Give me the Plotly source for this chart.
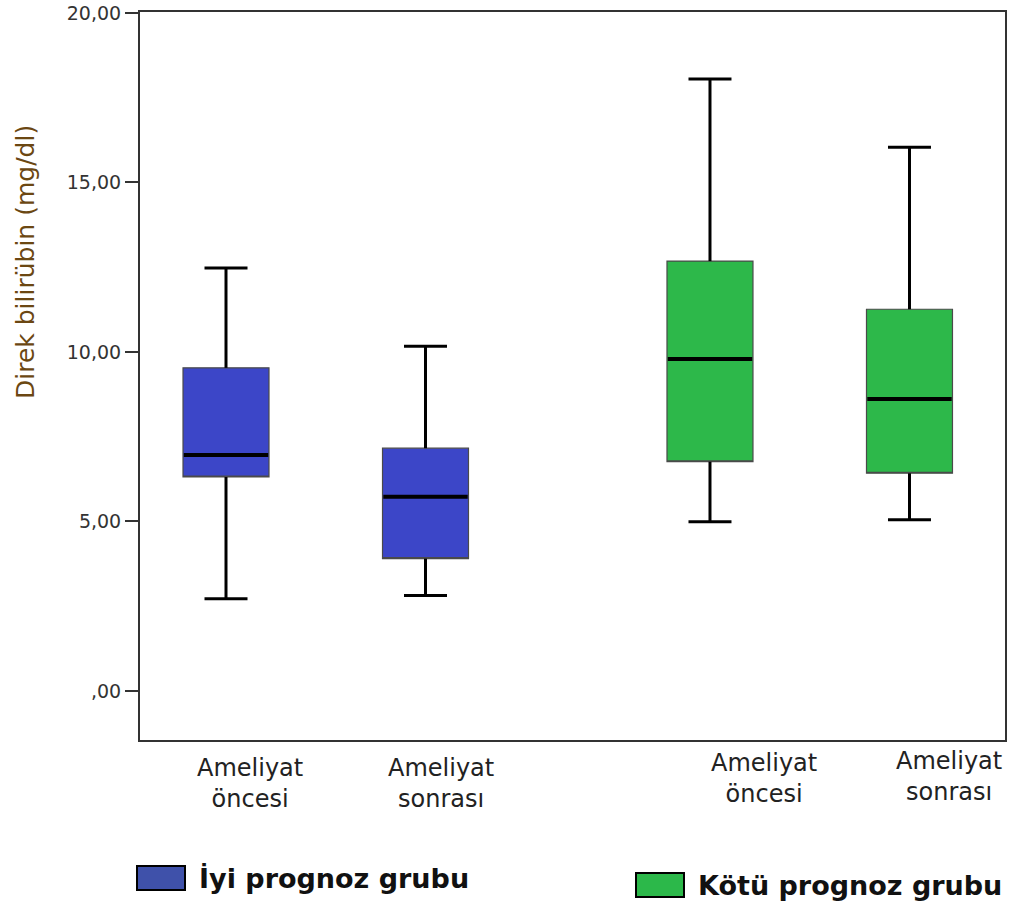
import plotly.graph_objects as go

# ---- data ----
categories = ["Ameliyat<br>öncesi", "Ameliyat<br>sonrası", "Ameliyat<br>öncesi", "Ameliyat<br>sonrası"]
groups = ["İyi prognoz grubu", "İyi prognoz grubu", "Kötü prognoz grubu", "Kötü prognoz grubu"]
lower_whisker = [2.72, 2.81, 4.99, 5.05]
q1_values = [6.31, 3.90, 6.76, 6.42]
median_values = [6.96, 5.73, 9.79, 8.61]
q3_values = [9.53, 7.16, 12.68, 11.26]
upper_whisker = [12.48, 10.17, 18.05, 16.04]
legend_labels = ["İyi prognoz grubu", "Kötü prognoz grubu"]
y_tickvals = [0, 5, 10, 15, 20]
y_ticktext = [",00", "5,00", "10,00", "15,00", "20,00"]
y_title = "Direk bilirübin (mg/dl)"

# ---- layout constants ----
W, H = 1024, 906
L, R, T, B = 140, 1005, 12, 740
x_pos = [0.0, 1.0, 2.426, 3.426]
label_offset = [0.12, 0.08, 0.27, 0.20]
label_top = [752, 752, 747, 745]
box_w = 0.431
cap_w = box_w / 2
colors = {"İyi prognoz grubu": "#3c46c8", "Kötü prognoz grubu": "#2db84a"}
legend_colors = ["#3f51aa", "#2cb84a"]
font_family = "Verdana, DejaVu Sans, sans-serif"


def px_x(px):
    return (px - L) / (R - L)


def px_y(py):
    return 1 - (py - T) / (B - T)


fig = go.Figure()

# filled boxes (thin outline)
for i in range(len(categories)):
    fig.add_trace(go.Box(
        x=[x_pos[i]], q1=[q1_values[i]], median=[q1_values[i]], q3=[q3_values[i]],
        lowerfence=[q1_values[i]], upperfence=[q3_values[i]],
        width=box_w, fillcolor=colors[groups[i]],
        line=dict(color="#4a4a4a", width=1.2), whiskerwidth=0,
        boxpoints=False, showlegend=False, hoverinfo="skip",
    ))

# whiskers and caps
wx, wy = [], []
for i in range(len(categories)):
    c = x_pos[i]
    wx += [c, c, None, c, c, None,
           c - cap_w / 2, c + cap_w / 2, None, c - cap_w / 2, c + cap_w / 2, None]
    wy += [lower_whisker[i], q1_values[i], None, q3_values[i], upper_whisker[i], None,
           lower_whisker[i], lower_whisker[i], None, upper_whisker[i], upper_whisker[i], None]
fig.add_trace(go.Scatter(x=wx, y=wy, mode="lines", line=dict(color="black", width=3),
                         showlegend=False, hoverinfo="skip"))

# medians
mx, my = [], []
for i in range(len(categories)):
    c = x_pos[i]
    mx += [c - box_w / 2 + 0.004, c + box_w / 2 - 0.004, None]
    my += [median_values[i], median_values[i], None]
fig.add_trace(go.Scatter(x=mx, y=my, mode="lines", line=dict(color="black", width=4),
                         showlegend=False, hoverinfo="skip"))

annotations = []
# category labels
for i, cat in enumerate(categories):
    annotations.append(dict(
        x=x_pos[i] + label_offset[i], y=px_y(label_top[i]), xref="x", yref="paper",
        text=cat, showarrow=False, xanchor="center", yanchor="top",
        font=dict(family=font_family, size=24, color="#222222"), align="center",
    ))

# y axis title
annotations.append(dict(
    x=px_x(25), y=px_y(262), xref="paper", yref="paper", text=y_title,
    textangle=-90, showarrow=False, xanchor="center", yanchor="middle",
    font=dict(family=font_family, size=25, color="#6b4712"),
))

# custom legend
shapes = []
legend_boxes = [(137, 866), (636, 873)]
for (lx, ly), lab, col in zip(legend_boxes, legend_labels, legend_colors):
    shapes.append(dict(type="rect", xref="paper", yref="paper",
                       x0=px_x(lx), x1=px_x(lx + 48), y0=px_y(ly + 24), y1=px_y(ly),
                       fillcolor=col, line=dict(color="black", width=2)))
    annotations.append(dict(
        x=px_x(lx + 60), y=px_y(ly + 12), xref="paper", yref="paper", text="<b>" + lab + "</b>",
        showarrow=False, xanchor="left", yanchor="middle",
        font=dict(family=font_family, size=27, color="#111111"),
    ))

fig.update_layout(
    width=W, height=H,
    margin=dict(l=L, r=W - R, t=T, b=H - B, autoexpand=False),
    paper_bgcolor="white", plot_bgcolor="white",
    showlegend=False,
    annotations=annotations, shapes=shapes,
    xaxis=dict(range=[(L - 226) / 199.5, (R - 226) / 199.5], showticklabels=False,
               showgrid=False, zeroline=False, showline=True, mirror=True,
               linecolor="#333333", linewidth=2, ticks="", automargin=False),
    yaxis=dict(range=[-1.45, 20.03], tickvals=y_tickvals, ticktext=y_ticktext,
               showgrid=False, zeroline=False, showline=True, mirror=True,
               linecolor="#333333", linewidth=2, ticks="outside", ticklen=13,
               tickwidth=2, tickcolor="#333333", automargin=False,
               tickfont=dict(family=font_family, size=19, color="#333333")),
)

fig.write_html("out.html", config={"displayModeBar": False},
               post_script="document.body.style.margin='0';document.body.style.overflow='hidden';")
